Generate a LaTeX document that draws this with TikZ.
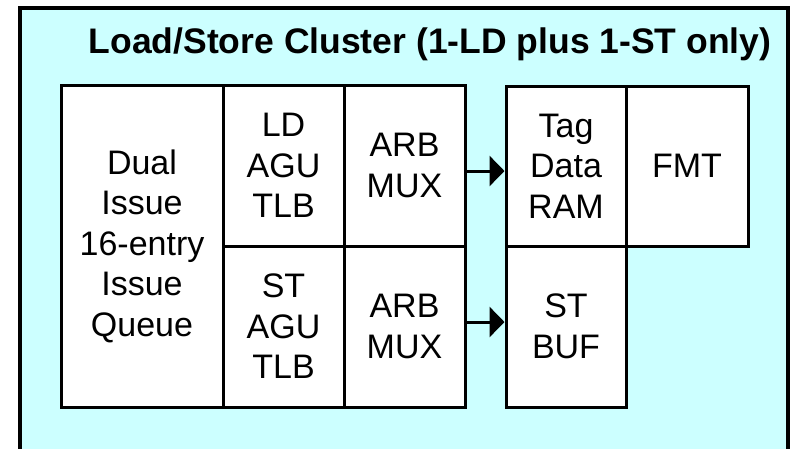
\documentclass[tikz,border=0pt]{standalone}
\usepackage{fontspec}
\setmainfont{Liberation Sans}
\usetikzlibrary{arrows.meta}
\definecolor{clusterbg}{HTML}{CCFFFF}
\begin{document}
\begin{tikzpicture}[x=1pt,y=-1pt,
  unit/.style={draw=black,line width=3pt,fill=white,align=center,
    inner sep=0pt,font=\fontsize{34}{40.5}\selectfont},
  flow/.style={line width=3pt,-{Triangle[length=15pt,width=30pt]}}]
  % page area
  \useasboundingbox (0,0) rectangle (792,448);
  \fill[white] (0,0) rectangle (792,448);
  % cluster frame (runs past the lower edge)
  \draw[line width=3.5pt,fill=clusterbg] (20,8) rectangle (788,470);
  \node[anchor=base,font=\fontsize{35.5}{40}\selectfont\bfseries] (title) at (430,53)
    {Load/Store Cluster (1-LD plus 1-ST only)};
  % issue queue
  \node[unit,minimum width=162pt,minimum height=322pt] (iq) at (142,246)
    {Dual\\Issue\\16-entry\\Issue\\Queue};
  % address generation
  \node[unit,minimum width=121pt,minimum height=161pt] (ldagu) at (283.5,165.5)
    {LD\\AGU\\TLB};
  \node[unit,minimum width=121pt,minimum height=161pt] (stagu) at (283.5,326.5)
    {ST\\AGU\\TLB};
  % arbitration
  \node[unit,minimum width=121pt,minimum height=161pt] (ldarb) at (404.5,165.5)
    {ARB\\MUX};
  \node[unit,minimum width=121pt,minimum height=161pt] (starb) at (404.5,326.5)
    {ARB\\MUX};
  % data side
  \node[unit,minimum width=120pt,minimum height=160pt] (tag) at (566,166)
    {Tag\\Data\\RAM};
  \node[unit,minimum width=122pt,minimum height=160pt] (fmt) at (687,166)
    {FMT};
  \node[unit,minimum width=120pt,minimum height=161pt] (stbuf) at (566,326.5)
    {ST\\BUF};
  % connections
  \draw[flow] ([yshift=-5.5pt]ldarb.east) -- ([yshift=-5pt]tag.west);
  \draw[flow] ([yshift=4.5pt]starb.east) -- ([yshift=4.5pt]stbuf.west);
\end{tikzpicture}
\end{document}
